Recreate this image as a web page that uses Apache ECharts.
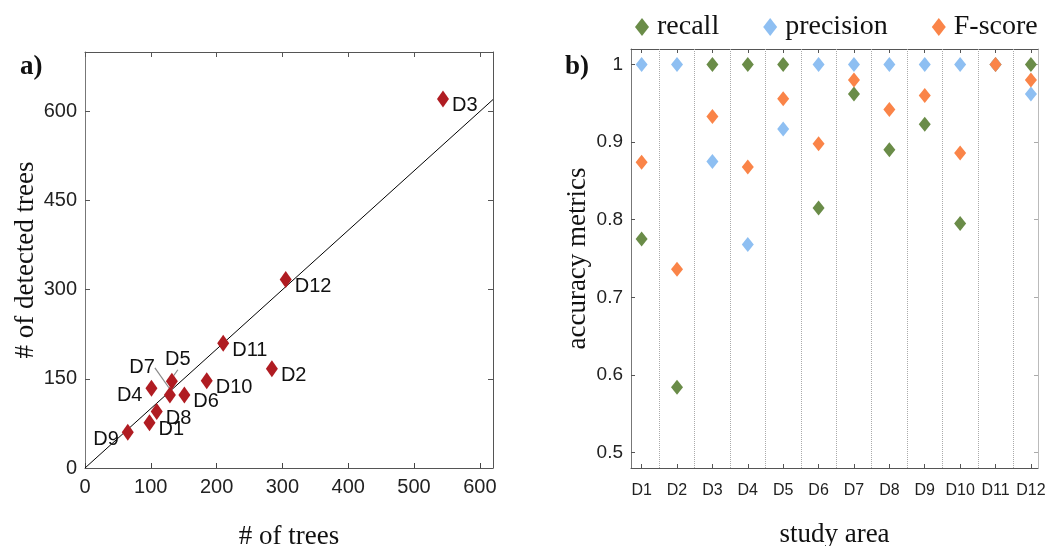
<!DOCTYPE html>
<html>
<head>
    <meta charset="utf-8">
    <title>ECharts</title>
    <script type="text/javascript" src="https://cdn.jsdelivr.net/npm/echarts@6/dist/echarts.min.js"></script>
</head>
<body style="margin:0">
    <div id="main" style="width: 1056px;height:546px;"></div>

    <script type="text/javascript">
        // a) detected vs reference tree counts
        var areas = ['D1', 'D2', 'D3', 'D4', 'D5', 'D6', 'D7', 'D8', 'D9', 'D10', 'D11', 'D12'];
        var treeCount = [98, 284, 544, 101, 132, 151, 129, 109, 65, 185, 210, 305];
        var detectedCount = [76, 167, 621, 134, 146, 123, 123, 95, 60, 147, 210, 317];
        var oneToOne = [0, 620];
        var xTicks = [0, 100, 200, 300, 400, 500, 600];
        var yTicks = [0, 150, 300, 450, 600];

        // b) accuracy metrics per study area
        var recall = [0.775, 0.584, 1, 1, 1, 0.815, 0.962, 0.890, 0.923, 0.795, 1, 1];
        var precision = [1, 1, 0.875, 0.768, 0.917, 1, 1, 1, 1, 1, 1, 0.962];
        var fscore = [0.874, 0.736, 0.933, 0.868, 0.956, 0.898, 0.980, 0.942, 0.960, 0.886, 1, 0.980];
        var metricTicks = [0.5, 0.6, 0.7, 0.8, 0.9, 1];

        var sans = 'Liberation Sans';
        var serif = 'Liberation Serif';
        var idx = areas.map(function (d, i) { return i + 1; });

        // label placement for the scatter in a)
        var labelSide = { D9: 'left', D4: 'left', D7: 'left', D5: 'top' };
        // D5 and D7 sit in a crowd: pulled away and tied back with a leader line
        var labelShift = { D7: [-6, -27], D5: [6, 0] };

        var pointsA = areas.map(function (d, i) {
            return {
                name: d,
                value: [treeCount[i], detectedCount[i]],
                label: { position: labelSide[d] || 'right' },
                labelLine: { show: !!labelShift[d] }
            };
        });

        function metricSeries(name, values, color) {
            return {
                name: name,
                type: 'scatter',
                xAxisIndex: 2,
                yAxisIndex: 2,
                symbol: 'diamond',
                symbolSize: [12, 15],
                itemStyle: { color: color, opacity: 1 },
                data: values.map(function (v, i) { return [i + 1, v]; })
            };
        }

        function boxAxis(base, extra) {
            var o = {
                type: 'value',
                axisLine: { show: true, onZero: false, lineStyle: { color: '#555', width: 1 } },
                axisTick: { show: true, inside: true, length: 5, lineStyle: { color: '#555' } },
                splitLine: { show: false },
                axisLabel: { show: false }
            };
            for (var k in base) o[k] = base[k];
            for (var k2 in extra) o[k2] = extra[k2];
            return o;
        }

        var myChart = echarts.init(document.getElementById('main'));

        myChart.setOption({
            animation: false,
            backgroundColor: '#fff',
            title: [
                { text: 'a)', left: 15, top: 49, textStyle: { fontFamily: serif, fontSize: 27, fontWeight: 'bold', color: '#111' } },
                { text: 'b)', left: 560, top: 49, textStyle: { fontFamily: serif, fontSize: 27, fontWeight: 'bold', color: '#111' } }
            ],
            legend: {
                data: ['recall', 'precision', 'F-score'],
                icon: 'diamond',
                itemWidth: 14,
                itemHeight: 18,
                itemGap: 44,
                left: 630,
                top: 8,
                textStyle: { fontFamily: serif, fontSize: 28, color: '#111', padding: [0, 0, 0, 3] }
            },
            grid: [
                { left: 85, top: 52, width: 408, height: 416, outerBoundsMode: 'none' },
                { left: 631, top: 49, width: 407, height: 419, outerBoundsMode: 'none' }
            ],
            xAxis: [
                boxAxis({ gridIndex: 0, min: 0, max: 620, position: 'bottom' }, {
                    axisTick: { show: true, inside: true, length: 5, customValues: xTicks, lineStyle: { color: '#444' } },
                    axisLabel: { show: true, customValues: xTicks, fontFamily: sans, fontSize: 20, color: '#222', margin: 9 },
                    name: '# of trees', nameLocation: 'middle', nameGap: 55,
                    nameTextStyle: { fontFamily: serif, fontSize: 27, color: '#111' }
                }),
                boxAxis({ gridIndex: 0, min: 0, max: 620, position: 'top' }, {
                    axisTick: { show: true, inside: true, length: 5, customValues: xTicks, lineStyle: { color: '#555' } }
                }),
                boxAxis({ gridIndex: 1, min: 0.7, max: 12.2, position: 'bottom' }, {
                    axisTick: { show: true, inside: true, length: 4, customValues: idx, lineStyle: { color: '#555' } },
                    axisLabel: {
                        show: true, customValues: idx, fontFamily: sans, fontSize: 16, color: '#222', margin: 15,
                        formatter: function (v) { return areas[Math.round(v) - 1]; }
                    },
                    name: 'study area', nameLocation: 'middle', nameGap: 53,
                    nameTextStyle: { fontFamily: serif, fontSize: 27, color: '#111' }
                }),
                boxAxis({ gridIndex: 1, min: 0.7, max: 12.2, position: 'top' }, {
                    axisTick: { show: true, inside: true, length: 4, customValues: idx, lineStyle: { color: '#555' } }
                })
            ],
            yAxis: [
                boxAxis({ gridIndex: 0, min: 0, max: 700, position: 'left' }, {
                    axisLine: { show: true, onZero: false, lineStyle: { color: '#777', width: 1 } },
                    axisTick: { show: true, inside: true, length: 5, customValues: yTicks, lineStyle: { color: '#555' } },
                    axisLabel: { show: true, customValues: yTicks, fontFamily: sans, fontSize: 20, color: '#222', margin: 8 },
                    name: '# of detected trees', nameLocation: 'middle', nameGap: 45,
                    nameTextStyle: { fontFamily: serif, fontSize: 27, color: '#111' }
                }),
                boxAxis({ gridIndex: 0, min: 0, max: 700, position: 'right' }, {
                    axisTick: { show: true, inside: true, length: 5, customValues: yTicks, lineStyle: { color: '#555' } }
                }),
                boxAxis({ gridIndex: 1, min: 0.48, max: 1.02, position: 'left' }, {
                    axisLine: { show: true, onZero: false, lineStyle: { color: '#777', width: 1 } },
                    axisTick: { show: true, inside: true, length: 4, customValues: metricTicks, lineStyle: { color: '#555' } },
                    axisLabel: {
                        show: true, customValues: metricTicks, fontFamily: sans, fontSize: 19, color: '#222', margin: 8,
                        formatter: function (v) { return v === 1 ? '1' : v.toFixed(1); }
                    },
                    name: 'accuracy metrics', nameLocation: 'middle', nameGap: 40,
                    nameTextStyle: { fontFamily: serif, fontSize: 27, color: '#111' }
                }),
                boxAxis({ gridIndex: 1, min: 0.48, max: 1.02, position: 'right' }, {
                    axisLine: { show: true, onZero: false, lineStyle: { color: '#bbb', width: 1 } },
                    axisTick: { show: true, inside: true, length: 4, customValues: metricTicks, lineStyle: { color: '#aaa' } }
                })
            ],
            series: [
                {
                    name: '1:1',
                    type: 'line',
                    xAxisIndex: 0,
                    yAxisIndex: 0,
                    symbol: 'none',
                    lineStyle: { color: '#000', width: 1 },
                    data: oneToOne.map(function (v) { return [v, v]; }),
                    z: 1
                },
                {
                    name: 'trees',
                    type: 'scatter',
                    xAxisIndex: 0,
                    yAxisIndex: 0,
                    symbol: 'diamond',
                    symbolSize: [12, 17],
                    itemStyle: { color: '#b01c22', opacity: 1 },
                    label: {
                        show: true,
                        formatter: '{b}',
                        distance: 3,
                        fontFamily: sans,
                        fontSize: 20,
                        color: '#111'
                    },
                    labelLine: { lineStyle: { color: '#888', width: 1.2 } },
                    labelLayout: function (params) {
                        var s = labelShift[areas[params.dataIndex]] || [0, 7];
                        return { dx: s[0], dy: s[1] };
                    },
                    data: pointsA,
                    z: 3
                },
                {
                    name: 'dividers',
                    type: 'scatter',
                    xAxisIndex: 2,
                    yAxisIndex: 2,
                    data: [],
                    markLine: {
                        silent: true,
                        symbol: 'none',
                        label: { show: false },
                        lineStyle: { type: 'dotted', color: '#aaa', width: 1 },
                        data: idx.slice(1).map(function (i) { return { xAxis: i - 0.5 }; })
                    }
                },
                metricSeries('recall', recall, '#6a8c48'),
                metricSeries('precision', precision, '#8ebff2'),
                metricSeries('F-score', fscore, '#fa8448')
            ]
        });
    </script>
</body>
</html>
